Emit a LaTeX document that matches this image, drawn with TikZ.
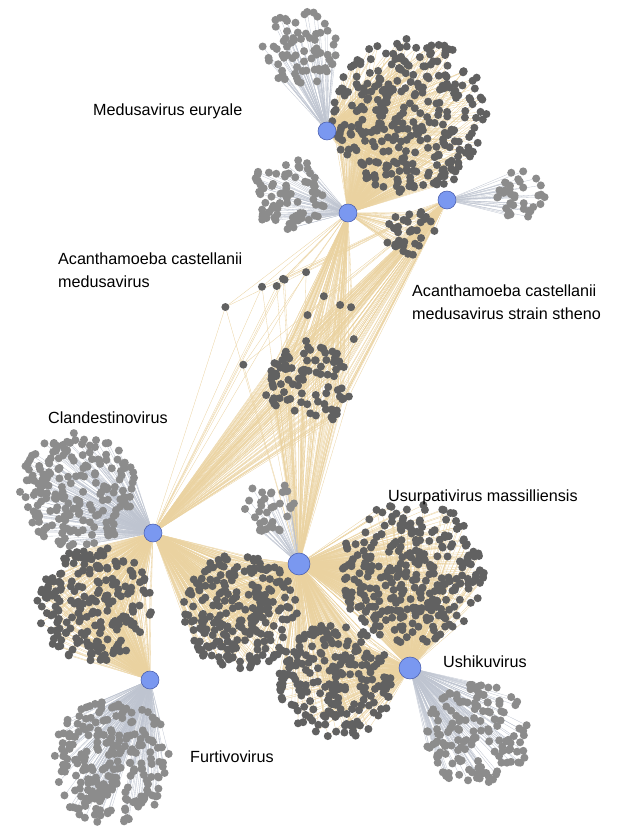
\documentclass[tikz,border=0pt]{standalone}
\usepackage{fontspec}
\setmainfont{Liberation Sans}
\usetikzlibrary{calc}
\pgfdeclarelayer{edgelayer}
\pgfdeclarelayer{nodelayer}
\pgfsetlayers{edgelayer,nodelayer,main}
\definecolor{hubblue}{RGB}{122,152,240}
\definecolor{hubrim}{RGB}{70,90,170}
\definecolor{tanedge}{RGB}{234,210,160}
\definecolor{grayedge}{RGB}{190,196,208}
\tikzstyle{dark}=[circle,fill=black!62,inner sep=0pt,minimum size=0.4cm]
\tikzstyle{light}=[circle,fill=black!45,inner sep=0pt,minimum size=0.4cm]
\tikzstyle{hub}=[circle,fill=hubblue,draw=hubrim,line width=0.8pt,inner sep=0pt,minimum size=0.9cm]
\tikzstyle{bighub}=[hub,minimum size=1.1cm]
\tikzstyle{tan}=[draw=tanedge,line width=0.45pt]
\tikzstyle{grey}=[draw=grayedge,line width=0.45pt]
\tikzstyle{label}=[anchor=west,align=left,inner sep=0pt,font=\fontsize{23pt}{32pt}\selectfont]
% #1 prefix, #2 centre, #3 radius, #4 count, #5 dot style, #6 hubs, #7 edge style
\newcommand{\dotcluster}[7]{%
	\begin{pgfonlayer}{nodelayer}
		\foreach \k in {1,...,#4}{
			\pgfmathsetmacro{\ang}{360*rnd}
			\pgfmathsetmacro{\rad}{#3*sqrt(rnd)}
			\node [style=#5] (#1\k) at ($#2+(\ang:\rad)$) {};
		}
	\end{pgfonlayer}
	\begin{pgfonlayer}{edgelayer}
		\foreach \k in {1,...,#4}
			\foreach \h in {#6} \draw [style=#7] (\h) -- (#1\k);
	\end{pgfonlayer}}
\begin{document}
\begin{tikzpicture}[x=0.05cm,y=-0.05cm]
	\pgfmathsetseed{7}
	\useasboundingbox (0,0) rectangle (642,838);
	% hubs
	\node [style=hub] (eur) at (327,131) {};
	\node [style=hub] (med) at (348,213) {};
	\node [style=hub] (sth) at (447,200) {};
	\node [style=hub] (cla) at (153,533) {};
	\node [style=bighub] (usu) at (299,564) {};
	\node [style=bighub] (ush) at (410,668) {};
	\node [style=hub] (fur) at (150,680) {};
	% clusters
	\dotcluster{a}{(300,48)}{38}{70}{light}{eur}{grey}
	\dotcluster{b}{(410,115)}{78}{320}{dark}{eur,med}{tan}
	\dotcluster{c}{(288,195)}{38}{80}{light}{med}{grey}
	\dotcluster{d}{(520,195)}{25}{35}{light}{sth}{grey}
	\dotcluster{e}{(410,232)}{25}{35}{dark}{sth,med}{tan}
	\dotcluster{f}{(310,385)}{42}{80}{dark}{med,sth,cla,usu}{tan}
	\dotcluster{p}{(285,330)}{70}{22}{dark}{med,sth,cla,usu}{tan}
	\dotcluster{g}{(78,490)}{58}{200}{light}{cla}{grey}
	\dotcluster{h}{(95,605)}{58}{210}{dark}{cla,fur}{tan}
	\dotcluster{i}{(270,505)}{28}{35}{light}{usu}{grey}
	\dotcluster{j}{(240,612)}{58}{230}{dark}{usu,cla}{tan}
	\dotcluster{k}{(412,572)}{72}{300}{dark}{usu,ush}{tan}
	\dotcluster{l}{(335,682)}{58}{210}{dark}{ush,usu}{tan}
	\dotcluster{m}{(112,762)}{62}{230}{light}{fur}{grey}
	\dotcluster{n}{(478,735)}{52}{150}{light}{ush}{grey}
	% labels
	\node [style=label] (leur) at (93,111) {Medusavirus euryale};
	\node [style=label] (lmed) at (58,270) {Acanthamoeba castellanii\\medusavirus};
	\node [style=label] (lsth) at (412,302) {Acanthamoeba castellanii\\medusavirus strain stheno};
	\node [style=label] (lcla) at (48,418) {Clandestinovirus};
	\node [style=label] (lusu) at (388,497) {Usurpativirus massilliensis};
	\node [style=label] (lush) at (443,662) {Ushikuvirus};
	\node [style=label] (lfur) at (190,757) {Furtivovirus};
\end{tikzpicture}
\end{document}
